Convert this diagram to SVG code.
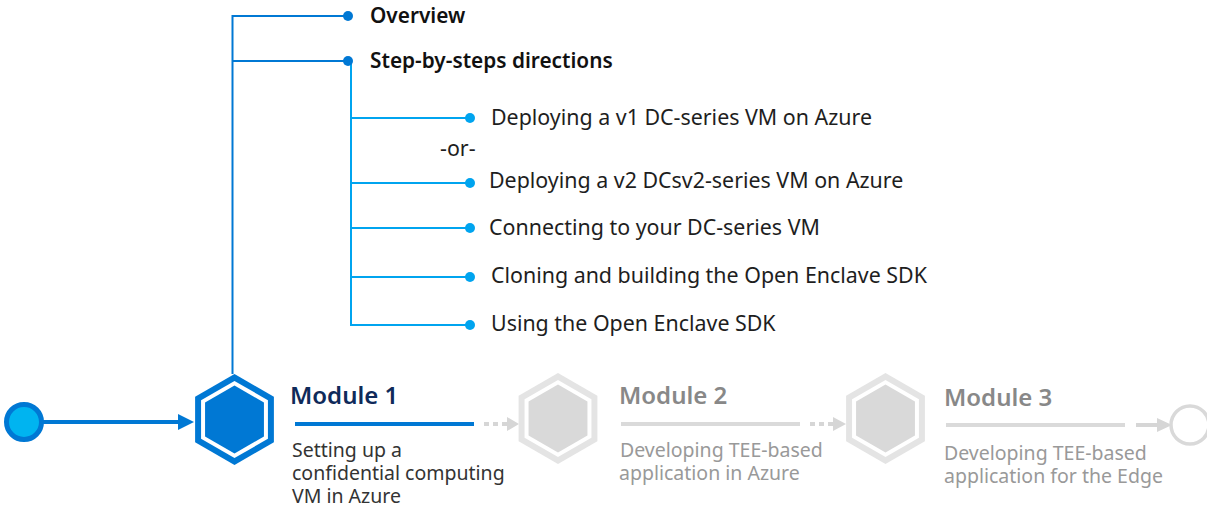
<svg xmlns="http://www.w3.org/2000/svg" xmlns:xlink="http://www.w3.org/1999/xlink" width="1207" height="510" viewBox="0 0 1207 510">
<style>
text{font-family:"Noto Sans","Open Sans","Liberation Sans",sans-serif}
.hdr{font-size:20.8px;font-weight:600;fill:#111}
.item{font-size:21.4px;fill:#1e1e1e}
.mt{font-size:24px;font-weight:600}
.desc{font-size:19.5px}
.blue{fill:#0078d4}
.lb{fill:#00a4ef}
.ln{fill:none;stroke:#0078d4;stroke-width:2}
.lnl{fill:none;stroke:#00a4ef;stroke-width:2}
.gbar{stroke:#dadada;stroke-width:4}
.gdash{stroke:#d6d6d6;stroke-width:4;stroke-dasharray:5 4}
.garr{fill:#d6d6d6}
</style>
<defs>
<path id="hexO" d="M0,-45.5L39.4,-22.75L39.4,22.75L0,45.5L-39.4,22.75L-39.4,-22.75Z"/>
<path id="hexW" d="M0,-38.6L33.43,-19.3L33.43,19.3L0,38.6L-33.43,19.3L-33.43,-19.3Z"/>
<path id="hexI" d="M0,-34L29.44,-17L29.44,17L0,34L-29.44,17L-29.44,-17Z"/>
</defs>
<g id="connectors">
<line x1="42" y1="422" x2="181" y2="422" stroke="#0078d4" stroke-width="4"/>
<polygon points="178,414 194,422 178,430" class="blue"/>
<polyline points="348,16 232.5,16 232.5,374" class="ln"/>
<line x1="232.5" y1="61" x2="348" y2="61" class="ln"/>
<polyline points="351,61 351,325 470,325" class="lnl"/>
<line x1="351" y1="118" x2="470" y2="118" class="lnl"/>
<line x1="351" y1="183" x2="470" y2="183" class="lnl"/>
<line x1="351" y1="228" x2="470" y2="228" class="lnl"/>
<line x1="351" y1="277" x2="470" y2="277" class="lnl"/>
<line x1="484" y1="424" x2="507" y2="424" class="gdash"/>
<polygon points="507,417 519,424 507,431" class="garr"/>
<line x1="810" y1="424" x2="833" y2="424" class="gdash"/>
<polygon points="833,417 846,424 833,431" class="garr"/>
<line x1="1136" y1="425" x2="1158" y2="425" stroke="#d6d6d6" stroke-width="4"/>
<polygon points="1157,418 1172,425 1157,432" class="garr"/>
</g>
<g id="start">
<circle cx="24" cy="422" r="17.5" fill="#00b4f0" stroke="#0078d4" stroke-width="5"/>
</g>
<g id="overview">
<circle cx="348" cy="16" r="5" class="blue"/>
<text x="370" y="23" class="hdr">Overview</text>
</g>
<g id="steps">
<circle cx="348" cy="61" r="5" class="blue"/>
<text x="370" y="68" class="hdr">Step-by-steps directions</text>
</g>
<g id="step-v1">
<circle cx="470" cy="118" r="5" class="lb"/>
<text x="491" y="125" class="item">Deploying a v1 DC-series VM on Azure</text>
</g>
<g id="or">
<text x="440" y="156" class="item">-or-</text>
</g>
<g id="step-v2">
<circle cx="470" cy="183" r="5" class="lb"/>
<text x="489" y="188" class="item">Deploying a v2 DCsv2-series VM on Azure</text>
</g>
<g id="step-connect">
<circle cx="470" cy="228" r="5" class="lb"/>
<text x="489" y="235" class="item">Connecting to your DC-series VM</text>
</g>
<g id="step-clone">
<circle cx="470" cy="277" r="5" class="lb"/>
<text x="491" y="283" class="item">Cloning and building the Open Enclave SDK</text>
</g>
<g id="step-use">
<circle cx="470" cy="325" r="5" class="lb"/>
<text x="491" y="331" class="item">Using the Open Enclave SDK</text>
</g>
<g id="module1">
<use xlink:href="#hexO" x="234.5" y="419.5" fill="#0078d4"/>
<use xlink:href="#hexW" x="234.5" y="419.5" fill="#ffffff"/>
<use xlink:href="#hexI" x="234.5" y="419.5" fill="#0078d4"/>
<text x="290" y="404" class="mt" fill="#0f2a5a">Module 1</text>
<line x1="295" y1="424" x2="474" y2="424" stroke="#0078d4" stroke-width="4"/>
<text class="desc" fill="#333333"><tspan x="292" y="457">Setting up a</tspan><tspan x="292" y="480">confidential computing</tspan><tspan x="292" y="503">VM in Azure</tspan></text>
</g>
<g id="module2">
<use xlink:href="#hexO" x="558" y="418.5" fill="#e4e4e4"/>
<use xlink:href="#hexW" x="558" y="418.5" fill="#ffffff"/>
<use xlink:href="#hexI" x="558" y="418.5" fill="#d9d9d9"/>
<text x="619" y="404" class="mt" fill="#888888">Module 2</text>
<line x1="621" y1="424" x2="800" y2="424" class="gbar"/>
<text class="desc" fill="#999999"><tspan x="620" y="457">Developing TEE-based</tspan><tspan x="619" y="480">application in Azure</tspan></text>
</g>
<g id="module3">
<use xlink:href="#hexO" x="885.5" y="418.5" fill="#e4e4e4"/>
<use xlink:href="#hexW" x="885.5" y="418.5" fill="#ffffff"/>
<use xlink:href="#hexI" x="885.5" y="418.5" fill="#d9d9d9"/>
<text x="944" y="406" class="mt" fill="#888888">Module 3</text>
<line x1="946" y1="425" x2="1125" y2="425" class="gbar"/>
<text class="desc" fill="#999999"><tspan x="944" y="460">Developing TEE-based</tspan><tspan x="944" y="483">application for the Edge</tspan></text>
</g>
<g id="end">
<circle cx="1190" cy="425" r="19" fill="#ffffff" stroke="#d9d9d9" stroke-width="3.5"/>
</g>
</svg>
